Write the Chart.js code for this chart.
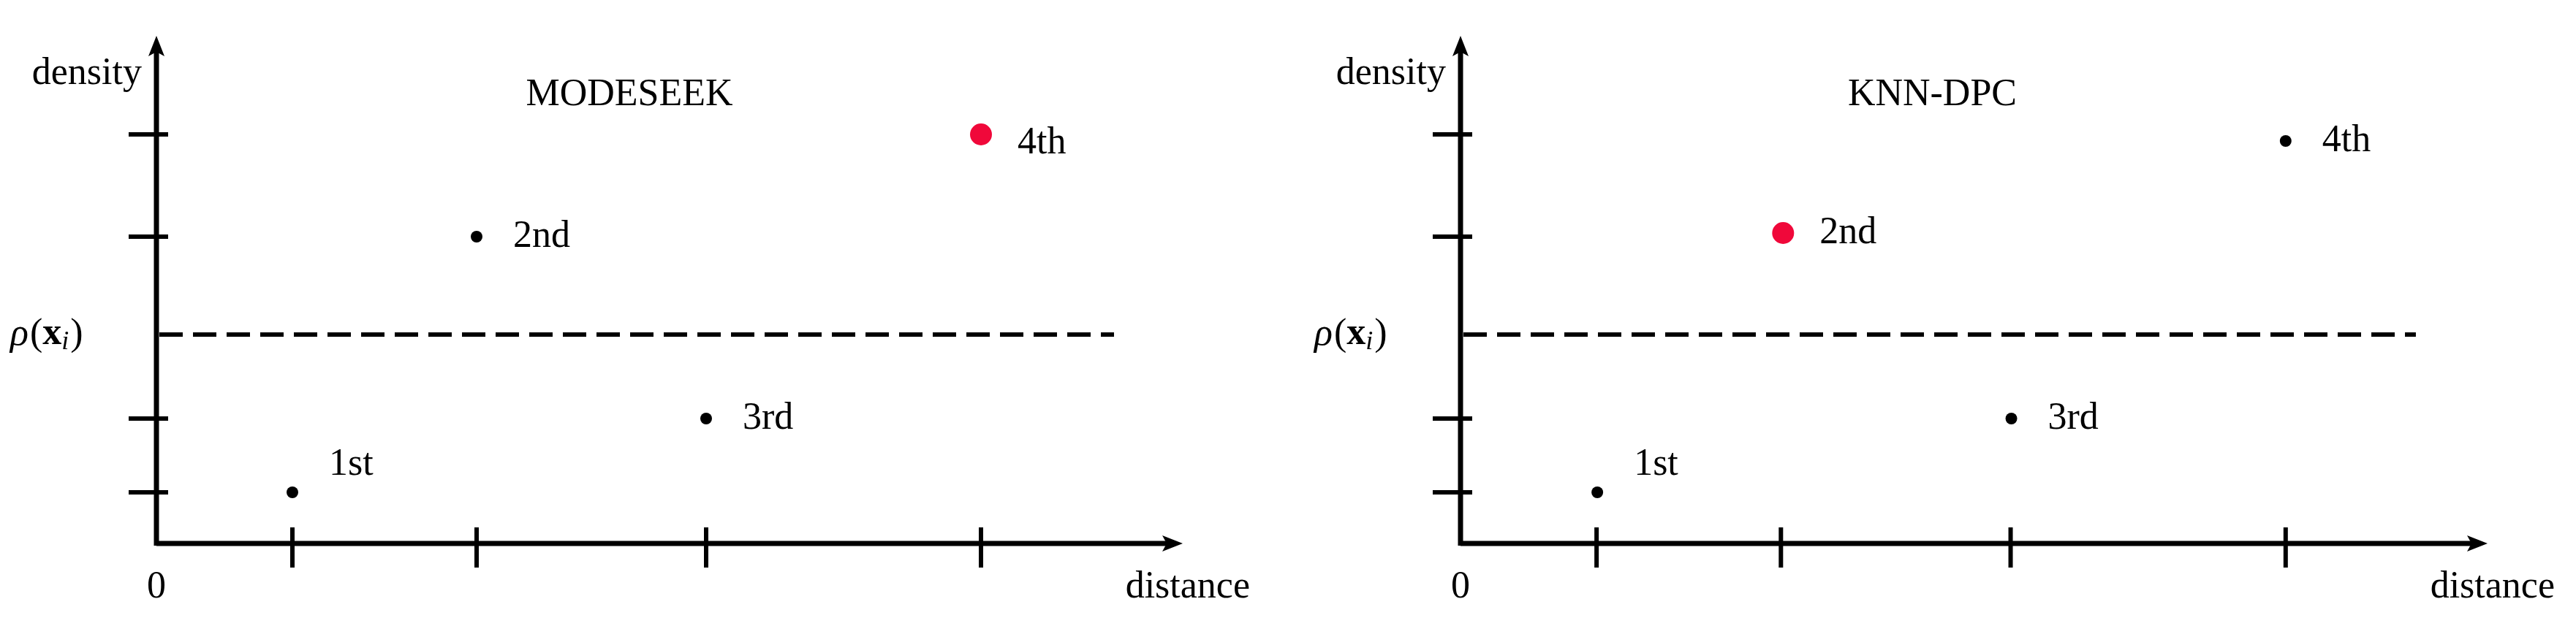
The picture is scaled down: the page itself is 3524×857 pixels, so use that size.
<!DOCTYPE html>
<html><head><meta charset="utf-8">
<script src="https://cdn.jsdelivr.net/npm/chart.js@4"></script>
<style>body{margin:0;background:#fff;width:3524px;height:857px;overflow:hidden}
.p{position:absolute;top:0;width:1762px;height:857px}</style></head>
<body>
<div class="p" style="left:0"><canvas id="c1"></canvas></div>
<div class="p" style="left:1762px"><canvas id="c2"></canvas></div>
<script>
const titles = ["MODESEEK", "KNN-DPC"];
const pointLabels = ["1st", "2nd", "3rd", "4th"];
const xTicks = [1.86, 4.38, 7.52, 11.28];
const yTicks = [0.70, 1.71, 4.20, 5.60];
const modeseekX = [1.86, 4.38, 7.52, 11.28];
const modeseekY = [0.70, 4.20, 1.71, 5.60];
const knnX = [1.87, 4.41, 7.53, 11.28];
const knnY = [0.70, 4.25, 1.71, 5.51];
const highlightIndex = [3, 1];
const highlightLabelShift = [12, 0];
const thresholdY = [2.86, 2.86];
const thresholdEnd = [13.10, 13.06];
const xMax = 14.04, yMax = 6.95;

const SERIF = '"Liberation Serif", "DejaVu Serif", serif';
const FS = 52;

const axesPlugin = {
  id: 'axes',
  afterDatasetsDraw(chart, args, opts) {
    const ctx = chart.ctx, xs = chart.scales.x, ys = chart.scales.y;
    const x0 = xs.getPixelForValue(0), y0 = ys.getPixelForValue(0);
    const xe = xs.getPixelForValue(xMax), ye = ys.getPixelForValue(yMax);
    ctx.save();
    ctx.strokeStyle = '#000'; ctx.fillStyle = '#000'; ctx.lineWidth = 7; ctx.lineCap = 'butt';
    ctx.beginPath(); ctx.moveTo(x0, y0); ctx.lineTo(xe - 20, y0); ctx.moveTo(x0, y0 + 3); ctx.lineTo(x0, ye + 20); ctx.stroke();
    ctx.beginPath(); ctx.moveTo(xe, y0); ctx.lineTo(xe - 28, y0 - 11); ctx.lineTo(xe - 22, y0); ctx.lineTo(xe - 28, y0 + 11); ctx.closePath(); ctx.fill();
    ctx.beginPath(); ctx.moveTo(x0, ye); ctx.lineTo(x0 - 11, ye + 28); ctx.lineTo(x0, ye + 22); ctx.lineTo(x0 + 11, ye + 28); ctx.closePath(); ctx.fill();
    ctx.lineWidth = 6;
    ctx.beginPath();
    xTicks.forEach(v => { const p = xs.getPixelForValue(v); ctx.moveTo(p, y0 - 22); ctx.lineTo(p, y0 + 33); });
    yTicks.forEach(v => { const p = ys.getPixelForValue(v); ctx.moveTo(x0 - 38, p); ctx.lineTo(x0 + 16, p); });
    ctx.stroke();
    ctx.font = FS + 'px ' + SERIF; ctx.textBaseline = 'middle';
    ctx.textAlign = 'right'; ctx.fillText('density', x0 - 20, 101);
    ctx.textAlign = 'center'; ctx.fillText('0', x0, 804);
    ctx.fillText(opts.title, xs.getPixelForValue(opts.titleX), 130);
    ctx.textAlign = 'right'; ctx.fillText('distance', xe + 92, 804);
    const ry = ys.getPixelForValue(thresholdY[0]);
    let px = x0 - 200;
    ctx.textAlign = 'left';
    ctx.font = 'italic ' + FS + 'px ' + SERIF; ctx.fillText('ρ', px, ry); px += ctx.measureText('ρ').width + 2;
    ctx.font = FS + 'px ' + SERIF; ctx.fillText('(', px, ry); px += ctx.measureText('(').width;
    ctx.font = 'bold ' + FS + 'px ' + SERIF; ctx.fillText('x', px, ry); px += ctx.measureText('x').width;
    ctx.font = 'italic 36px ' + SERIF; ctx.fillText('i', px, ry + 11); px += ctx.measureText('i').width + 2;
    ctx.font = FS + 'px ' + SERIF; ctx.fillText(')', px, ry);
    const d = chart.data.datasets[0].data;
    d.forEach((pt, i) => {
      const x = xs.getPixelForValue(pt.x), y = ys.getPixelForValue(pt.y);
      if (i === 0) ctx.fillText(pointLabels[i], x + 50, y - 38);
      else ctx.fillText(pointLabels[i], x + 50, y + (i === highlightIndex[opts.idx] ? highlightLabelShift[opts.idx] : 0));
    });
    ctx.restore();
  }
};

function make(id, idx, X, Y, pad, titleX) {
  const pts = X.map((x, i) => ({x, y: Y[i]}));
  new Chart(document.getElementById(id), {
    type: 'scatter',
    data: { datasets: [
      { data: pts, pointRadius: pts.map((p, i) => i === highlightIndex[idx] ? 15 : 8),
        pointBackgroundColor: pts.map((p, i) => i === highlightIndex[idx] ? '#f0083a' : '#000'),
        pointBorderWidth: 0 },
      { type: 'line', data: [{x: 0.04, y: thresholdY[idx]}, {x: thresholdEnd[idx], y: thresholdY[idx]}],
        borderColor: '#000', borderWidth: 6, borderDash: [32, 14], pointRadius: 0 }
    ]},
    options: {
      responsive: false, animation: false, devicePixelRatio: 1,
      layout: { padding: pad },
      plugins: { legend: {display: false}, tooltip: {enabled: false}, axes: {title: titles[idx], titleX, idx} },
      scales: { x: {type: 'linear', min: 0, max: xMax, display: false},
                y: {type: 'linear', min: 0, max: yMax, display: false} }
    },
    plugins: [axesPlugin]
  });
}
for (const id of ['c1', 'c2']) { const c = document.getElementById(id); c.width = 1762; c.height = 857; }
make('c1', 0, modeseekX, modeseekY, {left: 214, right: 144, top: 49, bottom: 113}, 6.47);
make('c2', 1, knnX, knnY, {left: 236, right: 121, top: 49, bottom: 113}, 6.45);
</script></body></html>
